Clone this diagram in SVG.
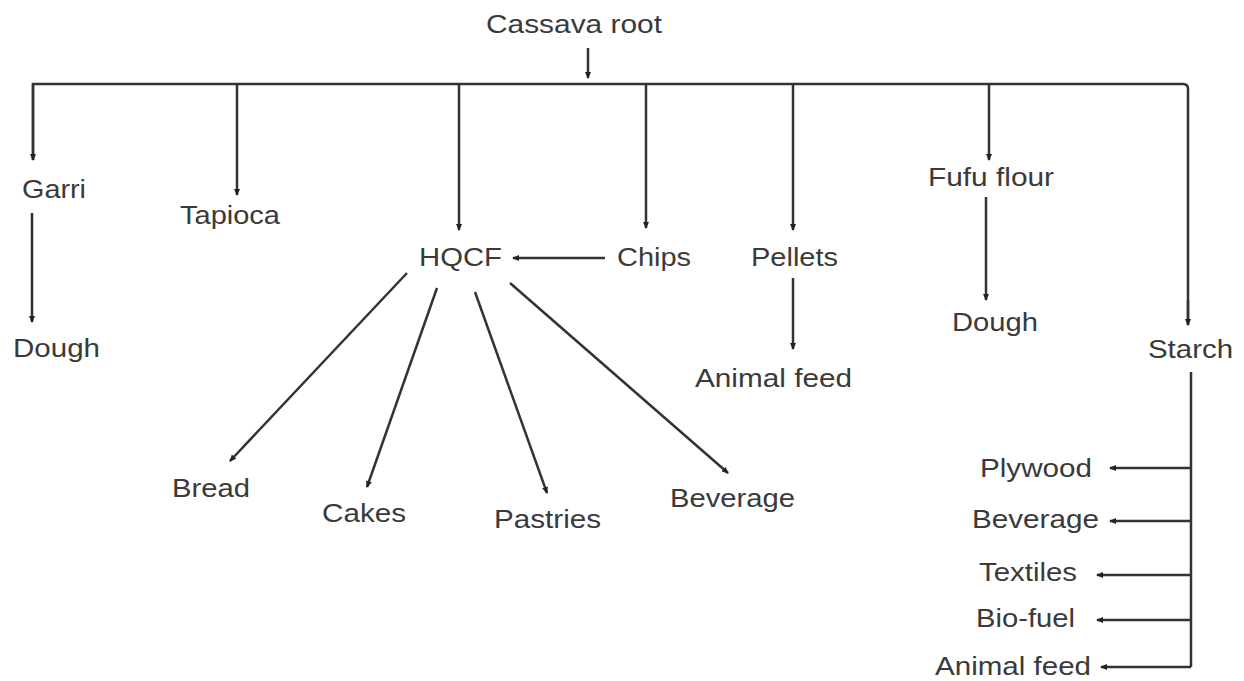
<svg xmlns="http://www.w3.org/2000/svg" width="1244" height="681" viewBox="0 0 1244 681">
<style>
text{font-family:"Liberation Sans",Arial,sans-serif;font-size:25px;fill:#3a3a3a}
.c{fill:none;stroke:#333;stroke-width:2.5}
.a{marker-end:url(#ah)}
</style>
<defs>
<marker id="ah" markerUnits="userSpaceOnUse" markerWidth="8" markerHeight="8" refX="6" refY="4" orient="auto">
<path d="M0,1 L7,4 L0,7 z" fill="#222"/>
</marker>
</defs>
<rect width="1244" height="681" fill="#fff"/>
<g id="connectors">
<path class="c a" d="M588,48 V78"/>
<path class="c" d="M33,160 V84 H1183 Q1188,84 1188,89 V325"/>
<path class="c a" d="M33,84 V160"/>
<path class="c a" d="M1188,300 V325"/>
<path class="c a" d="M237,84 V195"/>
<path class="c a" d="M459,84 V230"/>
<path class="c a" d="M646,84 V228"/>
<path class="c a" d="M793,84 V230"/>
<path class="c a" d="M989,84 V160"/>
<path class="c a" d="M32,213 V322"/>
<path class="c a" d="M986,197 V300"/>
<path class="c a" d="M793,278 V349"/>
<path class="c a" d="M605,258 H513"/>
<path class="c a" d="M407,273 L230,461"/>
<path class="c a" d="M437,288 L367,487"/>
<path class="c a" d="M475,292 L547,493"/>
<path class="c a" d="M510,283 L728,473"/>
<path class="c" d="M1191,372 V667"/>
<path class="c a" d="M1191,468 H1110"/>
<path class="c a" d="M1191,521 H1110"/>
<path class="c a" d="M1191,575 H1097"/>
<path class="c a" d="M1191,620 H1097"/>
<path class="c a" d="M1191,667 H1101"/>
</g>
<g id="n-cassava"><text x="486" y="33" textLength="176" lengthAdjust="spacingAndGlyphs">Cassava root</text></g>
<g id="n-garri"><text x="22" y="198" textLength="64" lengthAdjust="spacingAndGlyphs">Garri</text></g>
<g id="n-tapioca"><text x="180" y="224" textLength="100" lengthAdjust="spacingAndGlyphs">Tapioca</text></g>
<g id="n-hqcf"><text x="419" y="266" textLength="83" lengthAdjust="spacingAndGlyphs">HQCF</text></g>
<g id="n-chips"><text x="617" y="266" textLength="74" lengthAdjust="spacingAndGlyphs">Chips</text></g>
<g id="n-pellets"><text x="751" y="266" textLength="87" lengthAdjust="spacingAndGlyphs">Pellets</text></g>
<g id="n-fufu"><text x="928" y="186" textLength="126" lengthAdjust="spacingAndGlyphs">Fufu flour</text></g>
<g id="n-dough1"><text x="13" y="357" textLength="87" lengthAdjust="spacingAndGlyphs">Dough</text></g>
<g id="n-dough2"><text x="952" y="331" textLength="86" lengthAdjust="spacingAndGlyphs">Dough</text></g>
<g id="n-feed1"><text x="695" y="387" textLength="157" lengthAdjust="spacingAndGlyphs">Animal feed</text></g>
<g id="n-starch"><text x="1148" y="358" textLength="85" lengthAdjust="spacingAndGlyphs">Starch</text></g>
<g id="n-bread"><text x="172" y="497" textLength="78" lengthAdjust="spacingAndGlyphs">Bread</text></g>
<g id="n-cakes"><text x="322" y="522" textLength="84" lengthAdjust="spacingAndGlyphs">Cakes</text></g>
<g id="n-pastries"><text x="494" y="528" textLength="107" lengthAdjust="spacingAndGlyphs">Pastries</text></g>
<g id="n-beverage1"><text x="670" y="507" textLength="125" lengthAdjust="spacingAndGlyphs">Beverage</text></g>
<g id="n-plywood"><text x="980" y="477" textLength="112" lengthAdjust="spacingAndGlyphs">Plywood</text></g>
<g id="n-beverage2"><text x="972" y="528" textLength="127" lengthAdjust="spacingAndGlyphs">Beverage</text></g>
<g id="n-textiles"><text x="979" y="581" textLength="98" lengthAdjust="spacingAndGlyphs">Textiles</text></g>
<g id="n-biofuel"><text x="976" y="627" textLength="99" lengthAdjust="spacingAndGlyphs">Bio-fuel</text></g>
<g id="n-feed2"><text x="935" y="675" textLength="156" lengthAdjust="spacingAndGlyphs">Animal feed</text></g>
</svg>
